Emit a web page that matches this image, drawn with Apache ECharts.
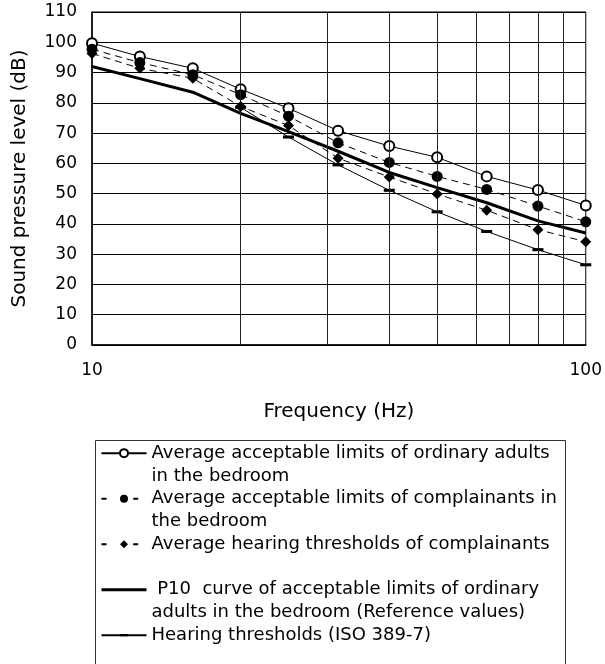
<!DOCTYPE html>
<html>
<head>
<meta charset="utf-8">
<script src="https://cdn.jsdelivr.net/npm/echarts@6/dist/echarts.min.js"></script>
<style>
html,body{margin:0;padding:0;background:#fff;}
#chart{width:605px;height:664px;}
</style>
</head>
<body>
<div id="chart"></div>
<script>
// Frequencies (Hz), 1/3-octave bands
var freqs = [10, 12.5, 16, 20, 25, 31.5, 40, 50, 63, 80, 100];
// Average acceptable limits of ordinary adults in the bedroom
var adults = [99.7, 95.3, 91.4, 84.5, 78.2, 70.8, 65.7, 62.0, 55.7, 51.2, 46.1];
// Average acceptable limits of complainants in the bedroom
var complainants = [97.7, 93.3, 89.3, 82.7, 75.6, 66.8, 60.3, 55.7, 51.4, 45.9, 40.7];
// Average hearing thresholds of complainants
var complainantThresholds = [96.3, 91.4, 88.1, 78.8, 72.5, 61.7, 55.5, 49.9, 44.5, 38.1, 34.1];
// P10 curve (reference values)
var p10 = [92, 88, 83.5, 76.5, 70.5, 64, 57, 52, 47, 41, 37];
// Hearing thresholds (ISO 389-7)
var isoThresholds = [null, null, null, 78.5, 68.7, 59.5, 51.1, 44.0, 37.5, 31.5, 26.5];
// Minor vertical grid lines
var gridFreqs = [20, 30, 40, 50, 60, 70, 80, 90];
// Y ticks
var yMin = 0, yMax = 110, yStep = 10;

var seriesNames = ['adults', 'complainants', 'cthr', 'p10', 'iso'];
var legendLabels = [
  'Average acceptable limits of ordinary adults\nin the bedroom',
  'Average acceptable limits of complainants in\nthe bedroom',
  'Average hearing thresholds of complainants\n',
  ' P10  curve of acceptable limits of ordinary\nadults in the bedroom (Reference values)',
  'Hearing thresholds (ISO 389-7)\n'
];

function pairs(vals) {
  var out = [];
  for (var i = 0; i < freqs.length; i++) {
    if (vals[i] !== null && vals[i] !== undefined) out.push([freqs[i], vals[i]]);
  }
  return out;
}

var FONT = 'DejaVu Sans';
var dashPath = 'path://M0,0 M0,3.6 L10,3.6 L10,6.4 L0,6.4 Z M10,10';

var chart = echarts.init(document.getElementById('chart'), null, {renderer: 'canvas'});
chart.setOption({
  animation: false,
  backgroundColor: '#fff',
  textStyle: {fontFamily: FONT, color: '#000'},
  grid: {left: 92, top: 12, width: 494, height: 333, show: true, borderColor: '#000', borderWidth: 1, backgroundColor: 'transparent'},
  xAxis: {
    type: 'log', logBase: 10, min: 10, max: 100,
    name: 'Frequency (Hz)', nameLocation: 'middle', nameGap: 57,
    nameTextStyle: {fontSize: 20, color: '#000', fontFamily: FONT},
    axisLine: {lineStyle: {color: '#000', width: 1.5}},
    axisTick: {show: false},
    splitLine: {show: false},
    axisLabel: {fontSize: 17, color: '#000', margin: 17, fontFamily: FONT}
  },
  yAxis: {
    type: 'value', min: yMin, max: yMax, interval: yStep,
    name: 'Sound pressure level (dB)', nameLocation: 'middle', nameGap: 62,
    nameTextStyle: {fontSize: 20, color: '#000', fontFamily: FONT},
    axisLine: {show: true, lineStyle: {color: '#000', width: 1.5}},
    axisTick: {show: false},
    splitLine: {show: true, lineStyle: {color: '#000', width: 1}},
    axisLabel: {fontSize: 17, color: '#000', margin: 15, fontFamily: FONT}
  },
  legend: {
    orient: 'vertical', left: 100, top: 419, height: 400, padding: 0,
    itemWidth: 45, itemHeight: 10, itemGap: -22.75,
    textStyle: {fontSize: 18, lineHeight: 22.75, color: '#000', fontFamily: FONT},
    data: [
      {name: 'adults'},
      {name: 'complainants', lineStyle: {type: [5, 26.7]}},
      {name: 'cthr', lineStyle: {type: [5, 26.7]}},
      {name: 'p10', itemStyle: {opacity: 0}, lineStyle: {width: 3}},
      {name: 'iso'}
    ],
    formatter: function (name) {
      return '\n' + legendLabels[seriesNames.indexOf(name)];
    }
  },
  graphic: [{
    type: 'rect', left: 93, top: 438, z: 0, silent: true,
    shape: {width: 470, height: 300},
    style: {fill: 'none', stroke: '#333', lineWidth: 1}
  }],
  series: [
    {
      name: 'grid', type: 'line', data: [], z: 1, silent: true,
      markLine: {
        silent: true, symbol: ['none', 'none'], label: {show: false},
        lineStyle: {color: '#222', width: 1, type: 'solid'},
        data: gridFreqs.map(function (f) { return {xAxis: f}; })
      }
    },
    {
      name: 'adults', type: 'line', data: pairs(adults), z: 3,
      symbol: 'emptyCircle', symbolSize: 10,
      itemStyle: {color: '#000', borderColor: '#000', borderWidth: 1.3},
      lineStyle: {color: '#000', width: 1}
    },
    {
      name: 'complainants', type: 'line', data: pairs(complainants), z: 4,
      symbol: 'circle', symbolSize: 11,
      itemStyle: {color: '#000'},
      lineStyle: {color: '#000', width: 1, type: [7, 5]}
    },
    {
      name: 'cthr', type: 'line', data: pairs(complainantThresholds), z: 5,
      symbol: 'diamond', symbolSize: 11,
      itemStyle: {color: '#000'},
      lineStyle: {color: '#000', width: 1, type: [7, 5]}
    },
    {
      name: 'p10', type: 'line', data: pairs(p10), z: 2,
      symbol: 'none',
      itemStyle: {color: '#000'},
      lineStyle: {color: '#000', width: 3}
    },
    {
      name: 'iso', type: 'line', data: pairs(isoThresholds), z: 2,
      symbol: dashPath, symbolSize: 11,
      itemStyle: {color: '#000'},
      lineStyle: {color: '#000', width: 1}
    }
  ]
});
</script>
</body>
</html>
